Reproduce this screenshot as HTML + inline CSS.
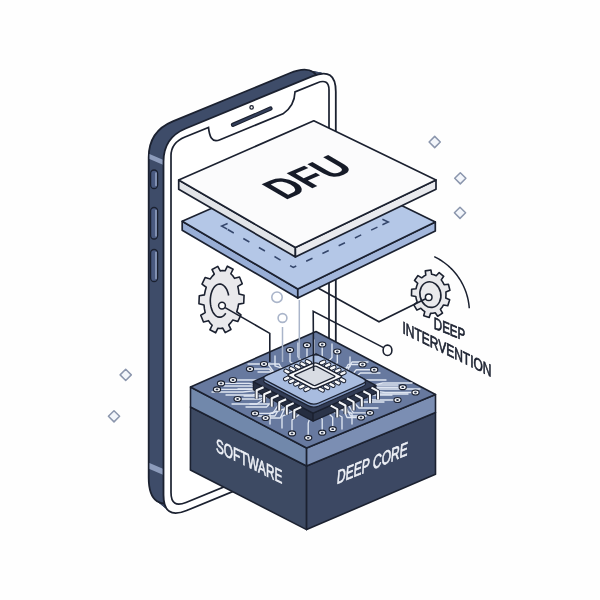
<!DOCTYPE html>
<html><head><meta charset="utf-8"><style>
html,body{margin:0;padding:0;background:#ffffff;}
svg{display:block;will-change:transform;}
text{font-family:"Liberation Sans",sans-serif;}
</style></head><body>
<svg width="600" height="600" viewBox="0 0 600 600">
<rect width="600" height="600" fill="#fefefe"/>
<g fill="#3e4c69">
<path d="M163.50,161.62 Q163.50,137.62 185.69,128.48 L312.68,76.15 Q335.80,66.63 335.80,91.63 L335.80,429.32 Q335.80,449.32 317.29,456.91 L186.63,510.48 Q163.50,519.97 163.50,494.97 Z" transform="translate(-0.00,-0.00)"/>
<path d="M163.50,161.74 Q163.50,137.62 185.81,128.43 L312.16,76.37 Q335.80,66.63 335.80,92.19 L335.80,429.32 Q335.80,449.32 317.29,456.91 L187.27,510.22 Q163.50,519.97 163.50,494.28 Z" transform="translate(-0.93,-0.39)"/>
<path d="M163.50,161.87 Q163.50,137.62 185.92,128.38 L311.64,76.58 Q335.80,66.63 335.80,92.76 L335.80,429.32 Q335.80,449.32 317.29,456.91 L187.90,509.96 Q163.50,519.97 163.50,493.59 Z" transform="translate(-1.85,-0.79)"/>
<path d="M163.50,161.99 Q163.50,137.62 186.04,128.33 L311.12,76.80 Q335.80,66.63 335.80,93.32 L335.80,429.32 Q335.80,449.32 317.29,456.91 L188.54,509.70 Q163.50,519.97 163.50,492.90 Z" transform="translate(-2.78,-1.18)"/>
<path d="M163.50,162.12 Q163.50,137.62 186.15,128.29 L310.60,77.01 Q335.80,66.63 335.80,93.88 L335.80,429.32 Q335.80,449.32 317.29,456.91 L189.18,509.44 Q163.50,519.97 163.50,492.22 Z" transform="translate(-3.70,-1.57)"/>
<path d="M163.50,162.24 Q163.50,137.62 186.27,128.24 L310.08,77.23 Q335.80,66.63 335.80,94.44 L335.80,429.32 Q335.80,449.32 317.29,456.91 L189.81,509.18 Q163.50,519.97 163.50,491.53 Z" transform="translate(-4.62,-1.97)"/>
<path d="M163.50,162.37 Q163.50,137.62 186.38,128.19 L309.56,77.44 Q335.80,66.63 335.80,95.01 L335.80,429.32 Q335.80,449.32 317.29,456.91 L190.45,508.92 Q163.50,519.97 163.50,490.84 Z" transform="translate(-5.55,-2.36)"/>
<path d="M163.50,162.49 Q163.50,137.62 186.50,128.14 L309.04,77.65 Q335.80,66.63 335.80,95.57 L335.80,429.32 Q335.80,449.32 317.29,456.91 L191.08,508.66 Q163.50,519.97 163.50,490.15 Z" transform="translate(-6.48,-2.76)"/>
<path d="M163.50,162.62 Q163.50,137.62 186.62,128.09 L308.52,77.87 Q335.80,66.63 335.80,96.13 L335.80,429.32 Q335.80,449.32 317.29,456.91 L191.72,508.39 Q163.50,519.97 163.50,489.47 Z" transform="translate(-7.40,-3.15)"/>
<path d="M163.50,162.74 Q163.50,137.62 186.73,128.05 L308.00,78.08 Q335.80,66.63 335.80,96.69 L335.80,429.32 Q335.80,449.32 317.29,456.91 L192.36,508.13 Q163.50,519.97 163.50,488.78 Z" transform="translate(-8.33,-3.54)"/>
<path d="M163.50,162.87 Q163.50,137.62 186.85,128.00 L307.48,78.30 Q335.80,66.63 335.80,97.26 L335.80,429.32 Q335.80,449.32 317.29,456.91 L192.99,507.87 Q163.50,519.97 163.50,488.09 Z" transform="translate(-9.25,-3.94)"/>
<path d="M163.50,162.99 Q163.50,137.62 186.96,127.95 L306.96,78.51 Q335.80,66.63 335.80,97.82 L335.80,429.32 Q335.80,449.32 317.29,456.91 L193.63,507.61 Q163.50,519.97 163.50,487.40 Z" transform="translate(-10.18,-4.33)"/>
<path d="M163.50,163.12 Q163.50,137.62 187.08,127.90 L306.44,78.73 Q335.80,66.63 335.80,98.38 L335.80,429.32 Q335.80,449.32 317.29,456.91 L194.26,507.35 Q163.50,519.97 163.50,486.72 Z" transform="translate(-11.10,-4.72)"/>
<path d="M163.50,163.24 Q163.50,137.62 187.19,127.86 L305.92,78.94 Q335.80,66.63 335.80,98.94 L335.80,429.32 Q335.80,449.32 317.29,456.91 L194.90,507.09 Q163.50,519.97 163.50,486.03 Z" transform="translate(-12.03,-5.12)"/>
<path d="M163.50,163.37 Q163.50,137.62 187.31,127.81 L305.40,79.15 Q335.80,66.63 335.80,99.51 L335.80,429.32 Q335.80,449.32 317.29,456.91 L195.54,506.83 Q163.50,519.97 163.50,485.34 Z" transform="translate(-12.95,-5.51)"/>
<path d="M163.50,163.49 Q163.50,137.62 187.42,127.76 L304.88,79.37 Q335.80,66.63 335.80,100.07 L335.80,429.32 Q335.80,449.32 317.29,456.91 L196.17,506.57 Q163.50,519.97 163.50,484.65 Z" transform="translate(-13.88,-5.91)"/>
<path d="M163.50,163.62 Q163.50,137.62 187.54,127.71 L304.36,79.58 Q335.80,66.63 335.80,100.63 L335.80,429.32 Q335.80,449.32 317.29,456.91 L196.81,506.31 Q163.50,519.97 163.50,483.97 Z" transform="translate(-14.80,-6.30)"/>
</g>
<path d="M163.50,163.62 Q163.50,137.62 187.54,127.71 L304.36,79.58 Q335.80,66.63 335.80,100.63 L335.80,429.32 Q335.80,449.32 317.29,456.91 L196.81,506.31 Q163.50,519.97 163.50,483.97 Z" transform="translate(-14.80,-6.30)" fill="none" stroke="#1b2130" stroke-width="1.8"/>
<polygon points="149.5,154 163.5,160 163.5,165 149.5,159" fill="#8d9cbc"/>
<polygon points="149.5,463 163.5,469 163.5,475 149.5,469" fill="#8d9cbc"/>
<rect x="150.6" y="170.0" width="7" height="18.5" rx="3.5" fill="#4a5a80" stroke="#1b2130" stroke-width="1.3"/>
<path d="M156,173.0 L156,185.5" stroke="#9aa8c8" stroke-width="1.4" stroke-linecap="round"/>
<rect x="150.6" y="207.5" width="7" height="31.5" rx="3.5" fill="#4a5a80" stroke="#1b2130" stroke-width="1.3"/>
<path d="M156,210.5 L156,236.0" stroke="#9aa8c8" stroke-width="1.4" stroke-linecap="round"/>
<rect x="150.6" y="249.5" width="7" height="32.0" rx="3.5" fill="#4a5a80" stroke="#1b2130" stroke-width="1.3"/>
<path d="M156,252.5 L156,278.5" stroke="#9aa8c8" stroke-width="1.4" stroke-linecap="round"/>
<path d="M163.50,161.62 Q163.50,137.62 185.69,128.48 L312.68,76.15 Q335.80,66.63 335.80,91.63 L335.80,429.32 Q335.80,449.32 317.29,456.91 L186.63,510.48 Q163.50,519.97 163.50,494.97 Z" fill="#ffffff" stroke="#1b2130" stroke-width="1.8"/>
<path d="M171.00,155.79 Q171.00,142.79 185.00,137.05 L208.50,127.42 C209.30,135.42 211.50,143.69 220.00,139.70 L283.00,113.87 C290.00,109.00 294.70,101.07 295.00,91.95 L317.00,82.93 Q329.00,78.01 329.00,90.01 L329.00,427.81 Q329.00,443.81 313.00,450.37 L186.00,502.44 Q171.00,508.59 171.00,492.59 Z" fill="#ffffff" stroke="#1b2130" stroke-width="1.7"/>
<line x1="233" y1="124.8" x2="270.5" y2="108.5" stroke="#1b2130" stroke-width="4.2" stroke-linecap="round"/>
<line x1="233" y1="124.8" x2="270.5" y2="108.5" stroke="#34405c" stroke-width="2" stroke-linecap="round"/>
<circle cx="251.6" cy="107.4" r="1.7" fill="#fff" stroke="#1b2130" stroke-width="1.3"/>
<polygon points="190.50,407.00 306.60,466.00 306.60,529.60 190.40,470.00" fill="#3d4a63" stroke="#1b2130" stroke-width="1.6" stroke-linejoin="round"/>
<polygon points="306.60,466.00 435.50,412.50 435.50,474.30 306.60,529.60" fill="#3c4863" stroke="#1b2130" stroke-width="1.6" stroke-linejoin="round"/>
<polygon points="190.50,387.00 306.60,448.00 306.60,466.00 190.50,407.00" fill="#7188ab" stroke="#1b2130" stroke-width="1.6" stroke-linejoin="round"/>
<polygon points="306.60,448.00 435.50,394.50 435.50,412.50 306.60,466.00" fill="#7b8eb3" stroke="#1b2130" stroke-width="1.6" stroke-linejoin="round"/>
<polygon points="190.50,387.00 316.00,331.50 435.50,394.50 306.60,448.00" fill="#67799f" stroke="#1b2130" stroke-width="1.6" stroke-linejoin="round"/>
<path d="M290.00,350.00 L290.00,361.70 L302.25,369.50 L302.25,389.00" fill="none" stroke="#dfe6f2" stroke-width="1.35" stroke-linejoin="round" stroke-linecap="round"/>
<path d="M264.00,364.00 L279.15,364.00 L286.73,377.75 L314.50,377.75" fill="none" stroke="#dfe6f2" stroke-width="1.35" stroke-linejoin="round" stroke-linecap="round"/>
<path d="M250.00,369.00 L269.35,369.00 L279.02,380.00 L314.50,380.00" fill="none" stroke="#dfe6f2" stroke-width="1.35" stroke-linejoin="round" stroke-linecap="round"/>
<path d="M233.00,380.00 L257.45,380.00 L269.68,384.95 L314.50,384.95" fill="none" stroke="#dfe6f2" stroke-width="1.35" stroke-linejoin="round" stroke-linecap="round"/>
<path d="M221.00,383.40 L249.05,383.40 L263.07,386.48 L314.50,386.48" fill="none" stroke="#dfe6f2" stroke-width="1.35" stroke-linejoin="round" stroke-linecap="round"/>
<path d="M217.00,389.40 L246.25,389.40 L260.88,389.18 L314.50,389.18" fill="none" stroke="#dfe6f2" stroke-width="1.35" stroke-linejoin="round" stroke-linecap="round"/>
<path d="M237.60,399.00 L260.67,399.00 L272.20,393.50 L314.50,393.50" fill="none" stroke="#dfe6f2" stroke-width="1.35" stroke-linejoin="round" stroke-linecap="round"/>
<path d="M255.00,413.40 L272.85,413.40 L281.77,399.98 L314.50,399.98" fill="none" stroke="#dfe6f2" stroke-width="1.35" stroke-linejoin="round" stroke-linecap="round"/>
<path d="M265.60,418.00 L280.27,418.00 L287.61,402.05 L314.50,402.05" fill="none" stroke="#dfe6f2" stroke-width="1.35" stroke-linejoin="round" stroke-linecap="round"/>
<path d="M292.00,433.40 L292.00,420.08 L303.25,411.20 L303.25,389.00" fill="none" stroke="#dfe6f2" stroke-width="1.35" stroke-linejoin="round" stroke-linecap="round"/>
<path d="M308.20,437.80 L308.20,423.16 L311.35,413.40 L311.35,389.00" fill="none" stroke="#dfe6f2" stroke-width="1.35" stroke-linejoin="round" stroke-linecap="round"/>
<path d="M322.20,432.70 L322.20,419.59 L318.35,410.85 L318.35,389.00" fill="none" stroke="#dfe6f2" stroke-width="1.35" stroke-linejoin="round" stroke-linecap="round"/>
<path d="M332.70,429.20 L332.70,417.14 L323.60,409.10 L323.60,389.00" fill="none" stroke="#dfe6f2" stroke-width="1.35" stroke-linejoin="round" stroke-linecap="round"/>
<path d="M361.00,417.50 L347.05,417.50 L340.07,401.82 L314.50,401.82" fill="none" stroke="#dfe6f2" stroke-width="1.35" stroke-linejoin="round" stroke-linecap="round"/>
<path d="M370.00,412.80 L353.35,412.80 L345.02,399.71 L314.50,399.71" fill="none" stroke="#dfe6f2" stroke-width="1.35" stroke-linejoin="round" stroke-linecap="round"/>
<path d="M397.50,400.00 L372.60,400.00 L360.15,393.95 L314.50,393.95" fill="none" stroke="#dfe6f2" stroke-width="1.35" stroke-linejoin="round" stroke-linecap="round"/>
<path d="M415.50,392.50 L385.20,392.50 L370.05,390.57 L314.50,390.57" fill="none" stroke="#dfe6f2" stroke-width="1.35" stroke-linejoin="round" stroke-linecap="round"/>
<path d="M402.70,387.20 L376.24,387.20 L363.01,388.19 L314.50,388.19" fill="none" stroke="#dfe6f2" stroke-width="1.35" stroke-linejoin="round" stroke-linecap="round"/>
<path d="M374.20,369.70 L356.29,369.70 L347.33,380.31 L314.50,380.31" fill="none" stroke="#dfe6f2" stroke-width="1.35" stroke-linejoin="round" stroke-linecap="round"/>
<path d="M362.50,364.50 L348.10,364.50 L340.90,377.98 L314.50,377.98" fill="none" stroke="#dfe6f2" stroke-width="1.35" stroke-linejoin="round" stroke-linecap="round"/>
<path d="M337.30,351.50 L337.30,362.75 L325.90,370.25 L325.90,389.00" fill="none" stroke="#dfe6f2" stroke-width="1.35" stroke-linejoin="round" stroke-linecap="round"/>
<path d="M322.20,344.50 L322.20,357.85 L318.35,366.75 L318.35,389.00" fill="none" stroke="#dfe6f2" stroke-width="1.35" stroke-linejoin="round" stroke-linecap="round"/>
<path d="M307.00,345.20 L307.00,358.34 L310.75,367.10 L310.75,389.00" fill="none" stroke="#dfe6f2" stroke-width="1.35" stroke-linejoin="round" stroke-linecap="round"/>
<path d="M212.00,392.00 L242.75,392.00 L258.12,390.35 L314.50,390.35" fill="none" stroke="#dfe6f2" stroke-width="1.35" stroke-linejoin="round" stroke-linecap="round"/>
<path d="M226.00,395.00 L252.55,395.00 L265.82,391.70 L314.50,391.70" fill="none" stroke="#dfe6f2" stroke-width="1.35" stroke-linejoin="round" stroke-linecap="round"/>
<path d="M224.00,386.00 L251.15,386.00 L264.73,387.65 L314.50,387.65" fill="none" stroke="#dfe6f2" stroke-width="1.35" stroke-linejoin="round" stroke-linecap="round"/>
<path d="M238.00,389.00 L260.95,389.00 L272.43,389.00 L314.50,389.00" fill="none" stroke="#dfe6f2" stroke-width="1.35" stroke-linejoin="round" stroke-linecap="round"/>
<path d="M232.00,404.00 L256.75,404.00 L269.12,395.75 L314.50,395.75" fill="none" stroke="#dfe6f2" stroke-width="1.35" stroke-linejoin="round" stroke-linecap="round"/>
<path d="M246.00,407.00 L266.55,407.00 L276.82,397.10 L314.50,397.10" fill="none" stroke="#dfe6f2" stroke-width="1.35" stroke-linejoin="round" stroke-linecap="round"/>
<path d="M244.00,396.00 L265.15,396.00 L275.73,392.15 L314.50,392.15" fill="none" stroke="#dfe6f2" stroke-width="1.35" stroke-linejoin="round" stroke-linecap="round"/>
<path d="M250.00,404.00 L269.35,404.00 L279.02,395.75 L314.50,395.75" fill="none" stroke="#dfe6f2" stroke-width="1.35" stroke-linejoin="round" stroke-linecap="round"/>
<path d="M258.00,416.00 L274.95,416.00 L283.43,401.15 L314.50,401.15" fill="none" stroke="#dfe6f2" stroke-width="1.35" stroke-linejoin="round" stroke-linecap="round"/>
<path d="M270.00,424.00 L270.00,413.50 L292.25,406.50 L292.25,389.00" fill="none" stroke="#dfe6f2" stroke-width="1.35" stroke-linejoin="round" stroke-linecap="round"/>
<path d="M282.00,428.00 L282.00,416.30 L298.25,408.50 L298.25,389.00" fill="none" stroke="#dfe6f2" stroke-width="1.35" stroke-linejoin="round" stroke-linecap="round"/>
<path d="M408.00,394.00 L379.95,394.00 L365.93,391.25 L314.50,391.25" fill="none" stroke="#dfe6f2" stroke-width="1.35" stroke-linejoin="round" stroke-linecap="round"/>
<path d="M420.00,389.00 L388.35,389.00 L372.52,389.00 L314.50,389.00" fill="none" stroke="#dfe6f2" stroke-width="1.35" stroke-linejoin="round" stroke-linecap="round"/>
<path d="M412.00,383.00 L382.75,383.00 L368.12,386.30 L314.50,386.30" fill="none" stroke="#dfe6f2" stroke-width="1.35" stroke-linejoin="round" stroke-linecap="round"/>
<path d="M398.00,385.00 L372.95,385.00 L360.43,387.20 L314.50,387.20" fill="none" stroke="#dfe6f2" stroke-width="1.35" stroke-linejoin="round" stroke-linecap="round"/>
<path d="M392.00,395.00 L368.75,395.00 L357.12,391.70 L314.50,391.70" fill="none" stroke="#dfe6f2" stroke-width="1.35" stroke-linejoin="round" stroke-linecap="round"/>
<path d="M384.00,402.00 L363.15,402.00 L352.73,394.85 L314.50,394.85" fill="none" stroke="#dfe6f2" stroke-width="1.35" stroke-linejoin="round" stroke-linecap="round"/>
<path d="M378.00,408.00 L358.95,408.00 L349.43,397.55 L314.50,397.55" fill="none" stroke="#dfe6f2" stroke-width="1.35" stroke-linejoin="round" stroke-linecap="round"/>
<path d="M366.00,416.00 L350.55,416.00 L342.82,401.15 L314.50,401.15" fill="none" stroke="#dfe6f2" stroke-width="1.35" stroke-linejoin="round" stroke-linecap="round"/>
<path d="M352.00,424.00 L352.00,413.50 L333.25,406.50 L333.25,389.00" fill="none" stroke="#dfe6f2" stroke-width="1.35" stroke-linejoin="round" stroke-linecap="round"/>
<path d="M342.00,429.00 L342.00,417.00 L328.25,409.00 L328.25,389.00" fill="none" stroke="#dfe6f2" stroke-width="1.35" stroke-linejoin="round" stroke-linecap="round"/>
<path d="M248.00,364.00 L267.95,364.00 L277.93,377.75 L314.50,377.75" fill="none" stroke="#dfe6f2" stroke-width="1.35" stroke-linejoin="round" stroke-linecap="round"/>
<path d="M258.00,372.00 L274.95,372.00 L283.43,381.35 L314.50,381.35" fill="none" stroke="#dfe6f2" stroke-width="1.35" stroke-linejoin="round" stroke-linecap="round"/>
<path d="M275.00,356.00 L275.00,365.90 L294.75,372.50 L294.75,389.00" fill="none" stroke="#dfe6f2" stroke-width="1.35" stroke-linejoin="round" stroke-linecap="round"/>
<path d="M298.00,343.00 L298.00,356.80 L306.25,366.00 L306.25,389.00" fill="none" stroke="#dfe6f2" stroke-width="1.35" stroke-linejoin="round" stroke-linecap="round"/>
<path d="M314.00,340.00 L314.00,354.70 L314.25,364.50 L314.25,389.00" fill="none" stroke="#dfe6f2" stroke-width="1.35" stroke-linejoin="round" stroke-linecap="round"/>
<path d="M332.00,344.00 L332.00,357.50 L323.25,366.50 L323.25,389.00" fill="none" stroke="#dfe6f2" stroke-width="1.35" stroke-linejoin="round" stroke-linecap="round"/>
<path d="M350.00,357.00 L350.00,366.60 L332.25,373.00 L332.25,389.00" fill="none" stroke="#dfe6f2" stroke-width="1.35" stroke-linejoin="round" stroke-linecap="round"/>
<path d="M368.00,362.00 L351.95,362.00 L343.93,376.85 L314.50,376.85" fill="none" stroke="#dfe6f2" stroke-width="1.35" stroke-linejoin="round" stroke-linecap="round"/>
<path d="M380.00,373.00 L360.35,373.00 L350.52,381.80 L314.50,381.80" fill="none" stroke="#dfe6f2" stroke-width="1.35" stroke-linejoin="round" stroke-linecap="round"/>
<path d="M386.00,380.00 L364.55,380.00 L353.82,384.95 L314.50,384.95" fill="none" stroke="#dfe6f2" stroke-width="1.35" stroke-linejoin="round" stroke-linecap="round"/>
<ellipse cx="290.00" cy="350.00" rx="3.6" ry="2.5" fill="#f6f8fb" stroke="#1b2130" stroke-width="1.2"/>
<ellipse cx="290.00" cy="350.00" rx="1.4" ry="0.9" fill="#28324a"/>
<ellipse cx="264.00" cy="364.00" rx="3.6" ry="2.5" fill="#f6f8fb" stroke="#1b2130" stroke-width="1.2"/>
<ellipse cx="264.00" cy="364.00" rx="1.4" ry="0.9" fill="#28324a"/>
<ellipse cx="250.00" cy="369.00" rx="3.6" ry="2.5" fill="#f6f8fb" stroke="#1b2130" stroke-width="1.2"/>
<ellipse cx="250.00" cy="369.00" rx="1.4" ry="0.9" fill="#28324a"/>
<ellipse cx="233.00" cy="380.00" rx="3.6" ry="2.5" fill="#f6f8fb" stroke="#1b2130" stroke-width="1.2"/>
<ellipse cx="233.00" cy="380.00" rx="1.4" ry="0.9" fill="#28324a"/>
<ellipse cx="221.00" cy="383.40" rx="3.6" ry="2.5" fill="#f6f8fb" stroke="#1b2130" stroke-width="1.2"/>
<ellipse cx="221.00" cy="383.40" rx="1.4" ry="0.9" fill="#28324a"/>
<ellipse cx="217.00" cy="389.40" rx="3.6" ry="2.5" fill="#f6f8fb" stroke="#1b2130" stroke-width="1.2"/>
<ellipse cx="217.00" cy="389.40" rx="1.4" ry="0.9" fill="#28324a"/>
<ellipse cx="237.60" cy="399.00" rx="3.6" ry="2.5" fill="#f6f8fb" stroke="#1b2130" stroke-width="1.2"/>
<ellipse cx="237.60" cy="399.00" rx="1.4" ry="0.9" fill="#28324a"/>
<ellipse cx="255.00" cy="413.40" rx="3.6" ry="2.5" fill="#f6f8fb" stroke="#1b2130" stroke-width="1.2"/>
<ellipse cx="255.00" cy="413.40" rx="1.4" ry="0.9" fill="#28324a"/>
<ellipse cx="265.60" cy="418.00" rx="3.6" ry="2.5" fill="#f6f8fb" stroke="#1b2130" stroke-width="1.2"/>
<ellipse cx="265.60" cy="418.00" rx="1.4" ry="0.9" fill="#28324a"/>
<ellipse cx="292.00" cy="433.40" rx="3.6" ry="2.5" fill="#f6f8fb" stroke="#1b2130" stroke-width="1.2"/>
<ellipse cx="292.00" cy="433.40" rx="1.4" ry="0.9" fill="#28324a"/>
<ellipse cx="308.20" cy="437.80" rx="3.6" ry="2.5" fill="#f6f8fb" stroke="#1b2130" stroke-width="1.2"/>
<ellipse cx="308.20" cy="437.80" rx="1.4" ry="0.9" fill="#28324a"/>
<ellipse cx="322.20" cy="432.70" rx="3.6" ry="2.5" fill="#f6f8fb" stroke="#1b2130" stroke-width="1.2"/>
<ellipse cx="322.20" cy="432.70" rx="1.4" ry="0.9" fill="#28324a"/>
<ellipse cx="332.70" cy="429.20" rx="3.6" ry="2.5" fill="#f6f8fb" stroke="#1b2130" stroke-width="1.2"/>
<ellipse cx="332.70" cy="429.20" rx="1.4" ry="0.9" fill="#28324a"/>
<ellipse cx="361.00" cy="417.50" rx="3.6" ry="2.5" fill="#f6f8fb" stroke="#1b2130" stroke-width="1.2"/>
<ellipse cx="361.00" cy="417.50" rx="1.4" ry="0.9" fill="#28324a"/>
<ellipse cx="370.00" cy="412.80" rx="3.6" ry="2.5" fill="#f6f8fb" stroke="#1b2130" stroke-width="1.2"/>
<ellipse cx="370.00" cy="412.80" rx="1.4" ry="0.9" fill="#28324a"/>
<ellipse cx="397.50" cy="400.00" rx="3.6" ry="2.5" fill="#f6f8fb" stroke="#1b2130" stroke-width="1.2"/>
<ellipse cx="397.50" cy="400.00" rx="1.4" ry="0.9" fill="#28324a"/>
<ellipse cx="415.50" cy="392.50" rx="3.6" ry="2.5" fill="#f6f8fb" stroke="#1b2130" stroke-width="1.2"/>
<ellipse cx="415.50" cy="392.50" rx="1.4" ry="0.9" fill="#28324a"/>
<ellipse cx="402.70" cy="387.20" rx="3.6" ry="2.5" fill="#f6f8fb" stroke="#1b2130" stroke-width="1.2"/>
<ellipse cx="402.70" cy="387.20" rx="1.4" ry="0.9" fill="#28324a"/>
<ellipse cx="374.20" cy="369.70" rx="3.6" ry="2.5" fill="#f6f8fb" stroke="#1b2130" stroke-width="1.2"/>
<ellipse cx="374.20" cy="369.70" rx="1.4" ry="0.9" fill="#28324a"/>
<ellipse cx="362.50" cy="364.50" rx="3.6" ry="2.5" fill="#f6f8fb" stroke="#1b2130" stroke-width="1.2"/>
<ellipse cx="362.50" cy="364.50" rx="1.4" ry="0.9" fill="#28324a"/>
<ellipse cx="337.30" cy="351.50" rx="3.6" ry="2.5" fill="#f6f8fb" stroke="#1b2130" stroke-width="1.2"/>
<ellipse cx="337.30" cy="351.50" rx="1.4" ry="0.9" fill="#28324a"/>
<ellipse cx="322.20" cy="344.50" rx="3.6" ry="2.5" fill="#f6f8fb" stroke="#1b2130" stroke-width="1.2"/>
<ellipse cx="322.20" cy="344.50" rx="1.4" ry="0.9" fill="#28324a"/>
<ellipse cx="307.00" cy="345.20" rx="3.6" ry="2.5" fill="#f6f8fb" stroke="#1b2130" stroke-width="1.2"/>
<ellipse cx="307.00" cy="345.20" rx="1.4" ry="0.9" fill="#28324a"/>
<g transform="translate(1.5,2.5)">
<polygon points="251.84,379.10 311.59,410.60 311.59,418.60 251.84,387.10" fill="#252d40" stroke="#1b2130" stroke-width="1.3" stroke-linejoin="round"/>
<polygon points="311.59,410.60 374.34,382.85 374.34,390.85 311.59,418.60" fill="#2b3449" stroke="#1b2130" stroke-width="1.3" stroke-linejoin="round"/>
<polygon points="314.59,351.35 374.34,382.85 311.59,410.60 251.84,379.10" fill="#323c55" stroke="#1b2130" stroke-width="1.3" stroke-linejoin="round"/>
<path d="M262.06,384.77 L255.16,387.82 L255.16,396.32" fill="none" stroke="#1b2130" stroke-width="3.8" stroke-linejoin="round"/>
<path d="M262.06,384.77 L255.16,387.82 L255.16,396.32" fill="none" stroke="#f4f6f9" stroke-width="2.1" stroke-linejoin="round"/>
<path d="M269.59,388.74 L262.68,391.79 L262.68,400.29" fill="none" stroke="#1b2130" stroke-width="3.8" stroke-linejoin="round"/>
<path d="M269.59,388.74 L262.68,391.79 L262.68,400.29" fill="none" stroke="#f4f6f9" stroke-width="2.1" stroke-linejoin="round"/>
<path d="M277.11,392.71 L270.21,395.76 L270.21,404.26" fill="none" stroke="#1b2130" stroke-width="3.8" stroke-linejoin="round"/>
<path d="M277.11,392.71 L270.21,395.76 L270.21,404.26" fill="none" stroke="#f4f6f9" stroke-width="2.1" stroke-linejoin="round"/>
<path d="M284.64,396.67 L277.74,399.73 L277.74,408.23" fill="none" stroke="#1b2130" stroke-width="3.8" stroke-linejoin="round"/>
<path d="M284.64,396.67 L277.74,399.73 L277.74,408.23" fill="none" stroke="#f4f6f9" stroke-width="2.1" stroke-linejoin="round"/>
<path d="M292.17,400.64 L285.27,403.70 L285.27,412.20" fill="none" stroke="#1b2130" stroke-width="3.8" stroke-linejoin="round"/>
<path d="M292.17,400.64 L285.27,403.70 L285.27,412.20" fill="none" stroke="#f4f6f9" stroke-width="2.1" stroke-linejoin="round"/>
<path d="M299.70,404.61 L292.80,407.67 L292.80,416.17" fill="none" stroke="#1b2130" stroke-width="3.8" stroke-linejoin="round"/>
<path d="M299.70,404.61 L292.80,407.67 L292.80,416.17" fill="none" stroke="#f4f6f9" stroke-width="2.1" stroke-linejoin="round"/>
<path d="M329.22,403.14 L335.79,406.61 L335.79,415.11" fill="none" stroke="#1b2130" stroke-width="3.8" stroke-linejoin="round"/>
<path d="M329.22,403.14 L335.79,406.61 L335.79,415.11" fill="none" stroke="#f4f6f9" stroke-width="2.1" stroke-linejoin="round"/>
<path d="M337.38,399.54 L343.95,403.00 L343.95,411.50" fill="none" stroke="#1b2130" stroke-width="3.8" stroke-linejoin="round"/>
<path d="M337.38,399.54 L343.95,403.00 L343.95,411.50" fill="none" stroke="#f4f6f9" stroke-width="2.1" stroke-linejoin="round"/>
<path d="M345.53,395.93 L352.11,399.39 L352.11,407.89" fill="none" stroke="#1b2130" stroke-width="3.8" stroke-linejoin="round"/>
<path d="M345.53,395.93 L352.11,399.39 L352.11,407.89" fill="none" stroke="#f4f6f9" stroke-width="2.1" stroke-linejoin="round"/>
<path d="M353.69,392.32 L360.27,395.78 L360.27,404.28" fill="none" stroke="#1b2130" stroke-width="3.8" stroke-linejoin="round"/>
<path d="M353.69,392.32 L360.27,395.78 L360.27,404.28" fill="none" stroke="#f4f6f9" stroke-width="2.1" stroke-linejoin="round"/>
<path d="M361.85,388.71 L368.42,392.18 L368.42,400.68" fill="none" stroke="#1b2130" stroke-width="3.8" stroke-linejoin="round"/>
<path d="M361.85,388.71 L368.42,392.18 L368.42,400.68" fill="none" stroke="#f4f6f9" stroke-width="2.1" stroke-linejoin="round"/>
<path d="M370.01,385.11 L376.58,388.57 L376.58,397.07" fill="none" stroke="#1b2130" stroke-width="3.8" stroke-linejoin="round"/>
<path d="M370.01,385.11 L376.58,388.57 L376.58,397.07" fill="none" stroke="#f4f6f9" stroke-width="2.1" stroke-linejoin="round"/>
<path d="M308.94,356.47 Q314.43,354.05 319.74,356.85 L361.46,378.84 Q366.77,381.64 361.28,384.07 L317.29,403.52 Q311.80,405.95 306.49,403.15 L264.77,381.15 Q259.46,378.36 264.95,375.93 Z" fill="#8197c0" stroke="#1b2130" stroke-width="1.2"/>
<path d="M308.94,353.47 Q314.43,351.05 319.74,353.85 L361.46,375.84 Q366.77,378.64 361.28,381.07 L317.29,400.52 Q311.80,402.95 306.49,400.15 L264.77,378.15 Q259.46,375.36 264.95,372.93 Z" fill="#a8bcdf" stroke="#1b2130" stroke-width="1.3"/>
<line x1="319.58" y1="360.70" x2="322.60" y2="359.37" stroke="#1b2130" stroke-width="4.6" stroke-linecap="round"/>
<line x1="319.58" y1="360.70" x2="322.60" y2="359.37" stroke="#f6f7f9" stroke-width="2.6" stroke-linecap="round"/>
<line x1="286.70" y1="375.24" x2="283.69" y2="376.57" stroke="#1b2130" stroke-width="4.6" stroke-linecap="round"/>
<line x1="286.70" y1="375.24" x2="283.69" y2="376.57" stroke="#f6f7f9" stroke-width="2.6" stroke-linecap="round"/>
<line x1="308.31" y1="360.35" x2="305.44" y2="358.84" stroke="#1b2130" stroke-width="4.6" stroke-linecap="round"/>
<line x1="308.31" y1="360.35" x2="305.44" y2="358.84" stroke="#f6f7f9" stroke-width="2.6" stroke-linecap="round"/>
<line x1="339.62" y1="376.86" x2="342.49" y2="378.37" stroke="#1b2130" stroke-width="4.6" stroke-linecap="round"/>
<line x1="339.62" y1="376.86" x2="342.49" y2="378.37" stroke="#f6f7f9" stroke-width="2.6" stroke-linecap="round"/>
<line x1="324.66" y1="363.38" x2="327.67" y2="362.05" stroke="#1b2130" stroke-width="4.6" stroke-linecap="round"/>
<line x1="324.66" y1="363.38" x2="327.67" y2="362.05" stroke="#f6f7f9" stroke-width="2.6" stroke-linecap="round"/>
<line x1="291.78" y1="377.92" x2="288.77" y2="379.25" stroke="#1b2130" stroke-width="4.6" stroke-linecap="round"/>
<line x1="291.78" y1="377.92" x2="288.77" y2="379.25" stroke="#f6f7f9" stroke-width="2.6" stroke-linecap="round"/>
<line x1="302.98" y1="362.71" x2="300.11" y2="361.20" stroke="#1b2130" stroke-width="4.6" stroke-linecap="round"/>
<line x1="302.98" y1="362.71" x2="300.11" y2="361.20" stroke="#f6f7f9" stroke-width="2.6" stroke-linecap="round"/>
<line x1="334.29" y1="379.22" x2="337.16" y2="380.73" stroke="#1b2130" stroke-width="4.6" stroke-linecap="round"/>
<line x1="334.29" y1="379.22" x2="337.16" y2="380.73" stroke="#f6f7f9" stroke-width="2.6" stroke-linecap="round"/>
<line x1="329.74" y1="366.05" x2="332.75" y2="364.72" stroke="#1b2130" stroke-width="4.6" stroke-linecap="round"/>
<line x1="329.74" y1="366.05" x2="332.75" y2="364.72" stroke="#f6f7f9" stroke-width="2.6" stroke-linecap="round"/>
<line x1="296.86" y1="380.60" x2="293.85" y2="381.93" stroke="#1b2130" stroke-width="4.6" stroke-linecap="round"/>
<line x1="296.86" y1="380.60" x2="293.85" y2="381.93" stroke="#f6f7f9" stroke-width="2.6" stroke-linecap="round"/>
<line x1="297.65" y1="365.07" x2="294.78" y2="363.56" stroke="#1b2130" stroke-width="4.6" stroke-linecap="round"/>
<line x1="297.65" y1="365.07" x2="294.78" y2="363.56" stroke="#f6f7f9" stroke-width="2.6" stroke-linecap="round"/>
<line x1="328.95" y1="381.58" x2="331.82" y2="383.09" stroke="#1b2130" stroke-width="4.6" stroke-linecap="round"/>
<line x1="328.95" y1="381.58" x2="331.82" y2="383.09" stroke="#f6f7f9" stroke-width="2.6" stroke-linecap="round"/>
<line x1="334.82" y1="368.73" x2="337.83" y2="367.40" stroke="#1b2130" stroke-width="4.6" stroke-linecap="round"/>
<line x1="334.82" y1="368.73" x2="337.83" y2="367.40" stroke="#f6f7f9" stroke-width="2.6" stroke-linecap="round"/>
<line x1="301.94" y1="383.27" x2="298.93" y2="384.60" stroke="#1b2130" stroke-width="4.6" stroke-linecap="round"/>
<line x1="301.94" y1="383.27" x2="298.93" y2="384.60" stroke="#f6f7f9" stroke-width="2.6" stroke-linecap="round"/>
<line x1="292.31" y1="367.43" x2="289.44" y2="365.92" stroke="#1b2130" stroke-width="4.6" stroke-linecap="round"/>
<line x1="292.31" y1="367.43" x2="289.44" y2="365.92" stroke="#f6f7f9" stroke-width="2.6" stroke-linecap="round"/>
<line x1="323.62" y1="383.94" x2="326.49" y2="385.45" stroke="#1b2130" stroke-width="4.6" stroke-linecap="round"/>
<line x1="323.62" y1="383.94" x2="326.49" y2="385.45" stroke="#f6f7f9" stroke-width="2.6" stroke-linecap="round"/>
<line x1="339.90" y1="371.41" x2="342.91" y2="370.08" stroke="#1b2130" stroke-width="4.6" stroke-linecap="round"/>
<line x1="339.90" y1="371.41" x2="342.91" y2="370.08" stroke="#f6f7f9" stroke-width="2.6" stroke-linecap="round"/>
<line x1="307.02" y1="385.95" x2="304.00" y2="387.28" stroke="#1b2130" stroke-width="4.6" stroke-linecap="round"/>
<line x1="307.02" y1="385.95" x2="304.00" y2="387.28" stroke="#f6f7f9" stroke-width="2.6" stroke-linecap="round"/>
<line x1="286.98" y1="369.79" x2="284.11" y2="368.28" stroke="#1b2130" stroke-width="4.6" stroke-linecap="round"/>
<line x1="286.98" y1="369.79" x2="284.11" y2="368.28" stroke="#f6f7f9" stroke-width="2.6" stroke-linecap="round"/>
<line x1="318.29" y1="386.30" x2="321.16" y2="387.81" stroke="#1b2130" stroke-width="4.6" stroke-linecap="round"/>
<line x1="318.29" y1="386.30" x2="321.16" y2="387.81" stroke="#f6f7f9" stroke-width="2.6" stroke-linecap="round"/>
<path d="M311.25,360.91 Q313.99,359.70 316.64,361.10 L338.82,372.79 Q341.47,374.19 338.73,375.40 L315.35,385.74 Q312.61,386.95 309.96,385.55 L287.78,373.86 Q285.12,372.46 287.87,371.25 Z" fill="#f8f9fb" stroke="#1b2130" stroke-width="1.4"/>
<path d="M312.44,363.86 Q313.81,363.25 315.14,363.95 L332.80,373.26 Q334.12,373.96 332.75,374.57 L314.16,382.79 Q312.79,383.40 311.46,382.70 L293.80,373.39 Q292.48,372.69 293.85,372.08 Z" fill="#d8dce3" stroke="#1b2130" stroke-width="1.3"/>
</g>
<path d="M237.83,308.01 L236.77,311.74 L241.00,314.78 L237.76,321.55 L232.82,320.03 L230.85,322.64 L228.71,324.82 L230.96,329.44 L225.21,332.58 L222.74,328.10 L220.31,328.44 L217.90,328.22 L215.63,332.81 L209.88,329.83 L212.18,325.25 L210.21,323.18 L208.46,320.66 L203.48,322.01 L200.74,315.26 L205.19,312.56 L204.43,308.88 L204.01,305.02 L198.94,303.76 L199.27,295.74 L204.42,294.89 L205.17,290.99 L206.23,287.26 L202.00,284.22 L205.24,277.45 L210.18,278.97 L212.15,276.36 L214.29,274.18 L212.04,269.56 L217.79,266.42 L220.26,270.90 L222.69,270.56 L225.10,270.78 L227.37,266.19 L233.12,269.17 L230.82,273.75 L232.79,275.82 L234.54,278.34 L239.52,276.99 L242.26,283.74 L237.81,286.44 L238.57,290.12 L238.99,293.98 L244.06,295.24 L243.73,303.26 L238.58,304.11 Z" fill="#e9e9ec" stroke="#1b2130" stroke-width="1.6" stroke-linejoin="round"/>
<path d="M225.76,313.29 L224.80,314.55 L223.75,315.58 L222.64,316.37 L221.48,316.90 L220.29,317.17 L219.10,317.17 L217.91,316.90 L216.75,316.36 L215.64,315.57 L214.59,314.54 L213.63,313.28 L212.77,311.81 L212.02,310.17 L211.39,308.36 L210.90,306.43 L210.55,304.41 L210.35,302.32 L210.30,300.21 L210.41,298.10 L210.66,296.04 L211.06,294.05 L211.61,292.16 L212.28,290.41 L213.07,288.83 L213.97,287.43 L214.97,286.26 L216.04,285.31 L217.17,284.61 L218.34,284.17 L219.54,284.00 L220.73,284.10 L221.91,284.47 L223.06,285.09 L224.15,285.97 L225.16,287.09 L226.09,288.43 L226.92,289.96 L227.62,291.67 L228.20,293.52 L228.64,295.49" fill="none" stroke="#1b2130" stroke-width="1.6"/>
<circle cx="222" cy="305.6" r="3.4" fill="#fff" stroke="#1b2130" stroke-width="1.5"/>
<path d="M446.00,295.00 L445.74,297.98 L449.68,299.84 L447.79,305.78 L443.52,304.95 L442.10,307.29 L440.41,309.30 L442.55,313.07 L437.67,316.23 L435.19,312.70 L432.91,313.26 L430.58,313.37 L429.21,317.47 L423.70,315.78 L424.80,311.60 L422.73,310.13 L420.85,308.29 L416.92,310.12 L413.78,304.84 L417.22,302.17 L416.33,299.36 L415.78,296.42 L411.48,295.67 L411.66,289.32 L415.99,288.83 L416.70,285.99 L417.74,283.33 L414.49,280.44 L417.99,275.56 L421.70,277.81 L423.67,276.27 L425.81,275.14 L425.28,270.85 L430.95,270.02 L431.66,274.28 L433.97,274.75 L436.21,275.68 L439.18,272.53 L443.71,276.32 L441.22,279.88 L442.79,282.15 L444.08,284.70 L448.41,284.21 L449.94,290.34 L445.91,291.99 Z" fill="#e9e9ec" stroke="#1b2130" stroke-width="1.6" stroke-linejoin="round"/>
<ellipse cx="430.4" cy="294.6" rx="10.4" ry="12.9" fill="none" stroke="#1b2130" stroke-width="1.6" transform="rotate(-12 430.4 294.6)"/>
<circle cx="428.7" cy="297.2" r="3.3" fill="#fff" stroke="#1b2130" stroke-width="1.5"/>
<path d="M434.23,256.63 L435.70,257.36 L437.15,258.12 L438.57,258.92 L439.98,259.76 L441.36,260.64 L442.72,261.55 L444.05,262.49 L445.36,263.48 L446.64,264.49 L447.89,265.54 L449.12,266.63 L450.32,267.74 L451.48,268.89 L452.62,270.06 L453.73,271.27 L454.80,272.51 L455.84,273.77 L456.84,275.06 L457.81,276.37 L458.75,277.72 L459.65,279.08 L460.51,280.47 L461.34,281.88 L462.13,283.32 L462.88,284.77 L463.59,286.24 L464.26,287.73 L464.90,289.24 L465.49,290.77 L466.04,292.31 L466.55,293.86 L467.02,295.43 L467.45,297.01 L467.84,298.60 L468.18,300.19 L468.48,301.80 L468.74,303.42 L468.96,305.04 L469.13,306.67 L469.26,308.30" fill="none" stroke="#1b2130" stroke-width="1.5"/>
<line x1="282.5" y1="327" x2="282.5" y2="362" stroke="#aab5ca" stroke-width="1.5"/>
<line x1="299.3" y1="300" x2="299.3" y2="360" stroke="#aab5ca" stroke-width="1.5"/>
<circle cx="277" cy="297.2" r="5.2" fill="none" stroke="#aab5ca" stroke-width="1.6"/>
<circle cx="282.5" cy="318" r="4.4" fill="none" stroke="#aab5ca" stroke-width="1.6"/>
<polyline points="313.6,371 313.2,311.3 383.5,347.6" fill="none" stroke="#1b2130" stroke-width="1.6"/>
<ellipse cx="387.5" cy="350.3" rx="4.4" ry="5.2" fill="#fff" stroke="#1b2130" stroke-width="1.6"/>
<polyline points="300,278 379,321.8 425.7,298.7" fill="none" stroke="#1b2130" stroke-width="1.6"/>
<polyline points="225.1,307.6 269.8,333.4 269.8,362" fill="none" stroke="#1b2130" stroke-width="1.6"/>
<polygon points="182.20,221.30 297.80,289.00 297.80,298.00 182.20,230.30" fill="#98aed6" stroke="#1b2130" stroke-width="1.7" stroke-linejoin="round"/>
<polygon points="297.80,289.00 435.30,222.00 435.30,231.00 297.80,298.00" fill="#a3b7dc" stroke="#1b2130" stroke-width="1.7" stroke-linejoin="round"/>
<polygon points="182.20,221.30 314.80,163.00 435.30,222.00 297.80,289.00" fill="#b4c7e7" stroke="#1b2130" stroke-width="1.7" stroke-linejoin="round"/>
<polyline points="382.4,219.2 388.3,222 382.4,224.8" fill="none" stroke="#34466b" stroke-width="1.5"/>
<polyline points="227.6,223.5 221.6,226 227.2,229.2" fill="none" stroke="#34466b" stroke-width="1.5"/>
<polyline points="382.4,224.8 293.3,267.4 227.2,229.2" fill="none" stroke="#34466b" stroke-width="1.5" stroke-dasharray="0,5.5,7,5.5" />
<polygon points="178.70,180.00 295.40,247.60 295.40,256.90 178.70,189.30" fill="#e2e4e8" stroke="#1b2130" stroke-width="1.7" stroke-linejoin="round"/>
<polygon points="295.40,247.60 436.00,180.00 436.00,189.30 295.40,256.90" fill="#e9eaee" stroke="#1b2130" stroke-width="1.7" stroke-linejoin="round"/>
<polygon points="178.70,180.00 313.80,120.80 436.00,180.00 295.40,247.60" fill="#fbfbfc" stroke="#1b2130" stroke-width="1.7" stroke-linejoin="round"/>
<text transform="matrix(0.9007,-0.3947,0.7780,0.4507,178.70,180.00)" x="45" y="84.5" font-family="Liberation Sans" font-weight="bold" font-size="48" fill="#161b28" textLength="79" lengthAdjust="spacingAndGlyphs">DFU</text>
<text transform="translate(216.00,451.50) skewY(26.06) scale(0.620,1) " x="0" y="0" font-family="Liberation Sans" font-weight="normal" font-size="19.0" fill="#eef1f7" stroke="#eef1f7" stroke-width="0.70">SOFTWARE</text>
<text transform="translate(336.50,484.20) skewY(-22.39) scale(0.645,1) skewX(-7)" x="0" y="0" font-family="Liberation Sans" font-weight="normal" font-size="18.7" fill="#eef1f7" stroke="#eef1f7" stroke-width="0.70">DEEP CORE</text>
<text transform="translate(433.80,328.50) skewY(21.80) scale(0.700,1) " x="0" y="0" font-family="Liberation Sans" font-weight="normal" font-size="16.5" fill="#1b2130" stroke="#1b2130" stroke-width="0.75">DEEP</text>
<text transform="translate(402.50,333.00) skewY(26.29) scale(0.705,1) " x="0" y="0" font-family="Liberation Sans" font-weight="normal" font-size="17.0" fill="#1b2130" stroke="#1b2130" stroke-width="0.75">INTERVENTION</text>
<polygon points="434.7,136.4 440.3,142.0 434.7,147.6 429.1,142.0" fill="#f3f6fb" stroke="#8b96ad" stroke-width="1.5" stroke-linejoin="round"/>
<polygon points="460.3,172.7 465.9,178.3 460.3,183.9 454.7,178.3" fill="#f3f6fb" stroke="#8b96ad" stroke-width="1.5" stroke-linejoin="round"/>
<polygon points="460.0,207.2 465.6,212.8 460.0,218.4 454.4,212.8" fill="#f3f6fb" stroke="#8b96ad" stroke-width="1.5" stroke-linejoin="round"/>
<polygon points="125.7,369.3 131.3,374.9 125.7,380.5 120.1,374.9" fill="#f3f6fb" stroke="#8b96ad" stroke-width="1.5" stroke-linejoin="round"/>
<polygon points="114.0,410.7 119.6,416.3 114.0,421.9 108.4,416.3" fill="#f3f6fb" stroke="#8b96ad" stroke-width="1.5" stroke-linejoin="round"/>
</svg></body></html>
